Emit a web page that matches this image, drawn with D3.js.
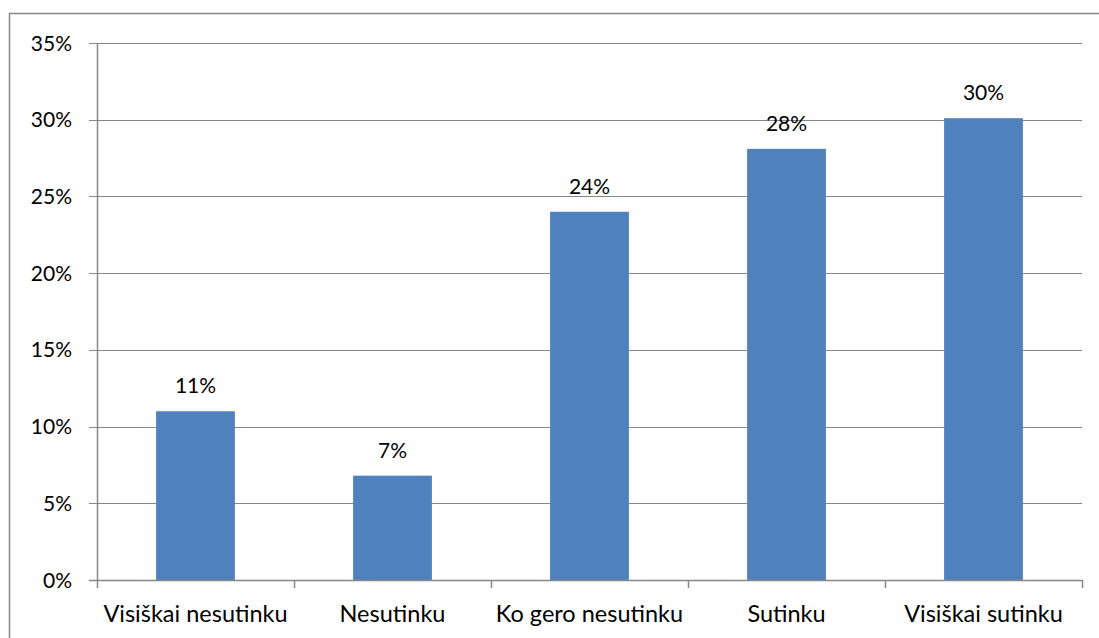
<!DOCTYPE html>
<html>
<head>
<meta charset="utf-8">
<script src="https://cdn.jsdelivr.net/npm/d3@7"></script>
<style>
  body { margin: 0; background: #fff; }
  text { font-family: Lato, "Open Sans", sans-serif; fill: #000; }
</style>
</head>
<body>
<script>
var categories = ["Visiškai nesutinku", "Nesutinku", "Ko gero nesutinku", "Sutinku", "Visiškai sutinku"];
var values = [0.11, 0.068, 0.24, 0.281, 0.301];
var labels = ["11%", "7%", "24%", "28%", "30%"];
var yTicks = [0, 0.05, 0.10, 0.15, 0.20, 0.25, 0.30, 0.35];

var svg = d3.select("body").append("svg")
  .attr("width", 1099)
  .attr("height", 638);

// outer chart border
svg.append("rect")
  .attr("x", 9.5).attr("y", 13.5)
  .attr("width", 1100).attr("height", 640)
  .attr("fill", "none")
  .attr("stroke", "#868686")
  .attr("stroke-width", 1.5);

var margin = {top: 43, left: 97},
  width = 985,
  height = 537,
  g = svg.append("g").attr("transform", "translate(" + margin.left + "," + margin.top + ")");

var x = d3.scaleBand()
  .domain(categories)
  .range([0, width]);

var y = d3.scaleLinear()
  .domain([0, 0.35])
  .range([height, 0]);

// gridlines + left ticks
g.append("g").selectAll("line")
  .data(yTicks)
  .enter().append("line")
  .attr("x1", -8).attr("x2", width)
  .attr("y1", function(d) { return Math.round(y(d)) + 0.5; })
  .attr("y2", function(d) { return Math.round(y(d)) + 0.5; })
  .attr("stroke", "#868686")
  .attr("stroke-width", 1.2);

g.append("g").selectAll("text")
  .data(yTicks)
  .enter().append("text")
  .attr("x", -25)
  .attr("y", function(d) { return y(d); })
  .attr("dy", "0.36em")
  .attr("text-anchor", "end")
  .style("font-size", "21px")
  .text(function(d) { return Math.round(d * 100) + "%"; });

// y axis line
g.append("line")
  .attr("x1", 0.5).attr("x2", 0.5)
  .attr("y1", 0).attr("y2", height)
  .attr("stroke", "#868686")
  .attr("stroke-width", 1.5);

// category boundary ticks
var bounds = categories.map(function(c) { return x(c); }).concat([width]);
g.append("g").selectAll("line")
  .data(bounds)
  .enter().append("line")
  .attr("x1", function(d) { return Math.round(d) + 0.5; })
  .attr("x2", function(d) { return Math.round(d) + 0.5; })
  .attr("y1", height).attr("y2", height + 8)
  .attr("stroke", "#868686")
  .attr("stroke-width", 1.5);

var barW = x.bandwidth() * 0.4;

g.selectAll(".bar")
  .data(values)
  .enter().append("rect")
  .attr("class", "bar")
  .attr("x", function(d, i) { return x(categories[i]) + (x.bandwidth() - barW) / 2; })
  .attr("y", function(d) { return y(d); })
  .attr("width", barW)
  .attr("height", function(d) { return height - y(d); })
  .attr("fill", "#4F81BD");

g.selectAll(".lbl")
  .data(values)
  .enter().append("text")
  .attr("class", "lbl")
  .attr("x", function(d, i) { return x(categories[i]) + x.bandwidth() / 2; })
  .attr("y", function(d) { return y(d) - 18; })
  .attr("text-anchor", "middle")
  .style("font-size", "21px")
  .text(function(d, i) { return labels[i]; });

// bottom axis line
g.append("line")
  .attr("x1", -8).attr("x2", width)
  .attr("y1", height + 0.5).attr("y2", height + 0.5)
  .attr("stroke", "#868686")
  .attr("stroke-width", 1.5);

g.append("g").selectAll("text")
  .data(categories)
  .enter().append("text")
  .attr("x", function(d) { return x(d) + x.bandwidth() / 2; })
  .attr("y", height + 42)
  .attr("text-anchor", "middle")
  .style("font-size", "23.5px")
  .text(function(d) { return d; });
</script>
</body>
</html>
